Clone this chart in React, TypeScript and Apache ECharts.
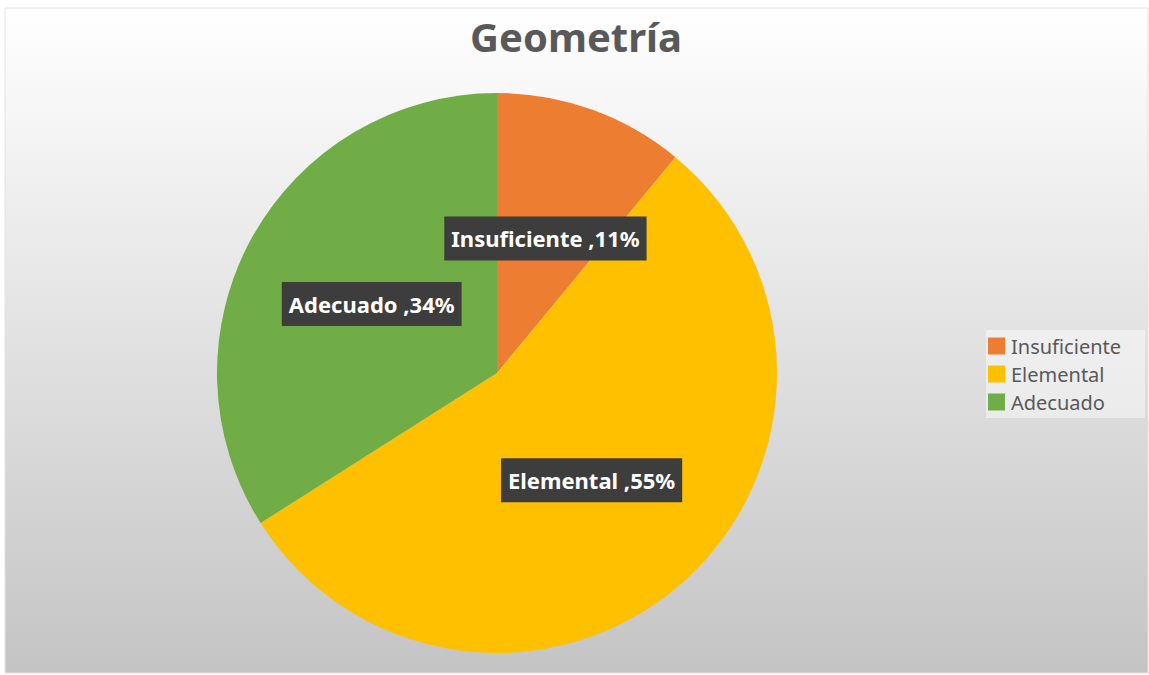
import React, { useEffect, useRef } from "react";
import * as echarts from "echarts";

const categories = ["Insuficiente", "Elemental", "Adecuado"];
const values = [11, 55, 34];
const colors = ["#ED7D31", "#FFC000", "#70AD47"];
const titleText = "Geometría";

export default function App() {
  const ref = useRef<HTMLDivElement>(null);
  useEffect(() => {
    document.body.style.margin = "0";
    const chart = echarts.init(ref.current!, null, { renderer: "svg" });
    chart.setOption({
      animation: false,
      graphic: [
        {
          type: "rect",
          z: -10,
          silent: true,
          shape: { x: 5, y: 8, width: 1143, height: 665 },
          style: {
            fill: {
              type: "linear",
              x: 0, y: 0, x2: 0, y2: 1,
              colorStops: [
                { offset: 0, color: "#ffffff" },
                { offset: 1, color: "#c4c4c4" },
              ],
            },
            stroke: "#e2e2e2",
            lineWidth: 1,
          },
        },
      ],
      title: {
        text: titleText,
        left: 571,
        textAlign: "center",
        top: 11,
        textStyle: {
          fontFamily: "Noto Sans",
          fontSize: 40,
          fontWeight: "bold",
          color: "#595959",
        },
      },
      legend: {
        orient: "vertical",
        left: 986,
        top: 330,
        itemWidth: 17,
        itemHeight: 17,
        itemGap: 8,
        icon: "rect",
        padding: [6, 24, 6, 2],
        backgroundColor: "rgba(255,255,255,0.45)",
        textStyle: { fontFamily: "Noto Sans", fontSize: 20, color: "#595959", padding: [0, 0, 0, 1] },
        data: categories,
      },
      series: [
        {
          type: "pie",
          center: [497, 373],
          radius: [0, 280],
          startAngle: 90,
          clockwise: true,
          itemStyle: { borderWidth: 0 },
          label: {
            show: true,
            position: "inside",
            formatter: (p: any) => `${p.name} ,${p.value}%`,
            fontFamily: "Noto Sans",
            fontWeight: "bold",
            fontSize: 22,
            color: "#ffffff",
            backgroundColor: "#3d3d3d",
            padding: [11, 7, 11, 7],
          },
          labelLine: { show: false },
          emphasis: { disabled: true },
          data: categories.map((c, i) => ({
            name: c,
            value: values[i],
            itemStyle: { color: colors[i] },
          })),
        },
      ],
    });
    return () => chart.dispose();
  }, []);
  return <div ref={ref} style={{ width: 1149, height: 675 }} />;
}
